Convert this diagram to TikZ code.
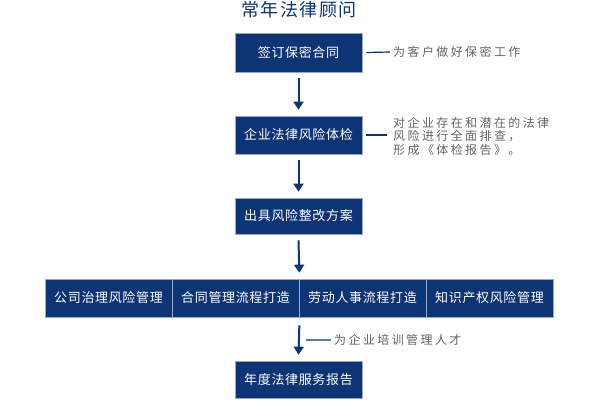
\documentclass[tikz,border=0pt]{standalone}
\usepackage{fontspec}
\usetikzlibrary{arrows.meta,calc}
\newfontfamily\cjkbox[LetterSpace=5]{Noto Sans CJK SC}
\newfontfamily\cjktitle[LetterSpace=8]{Noto Sans CJK SC}
\newfontfamily\cjkann[LetterSpace=20]{Noto Sans CJK SC}
\definecolor{navy}{RGB}{13,52,116}
\definecolor{edge}{RGB}{150,168,205}
\definecolor{anngrey}{RGB}{100,100,100}
\tikzset{
  box/.style={rectangle, fill=navy, draw=edge, line width=0.7pt, text=white,
    minimum width=127pt, inner sep=0pt, font=\cjkbox\fontsize{13}{15}\selectfont},
  arr/.style={draw=navy, line width=2pt, -{Triangle[width=10pt,length=8pt]}},
  tick/.style={draw=navy, line width=1.2pt},
  ann/.style={text=anngrey, inner sep=0pt, anchor=west, align=left,
    font=\cjkann\fontsize{12}{13.5}\selectfont}
}
\begin{document}
\begin{tikzpicture}[x=1pt,y=-1pt]
\useasboundingbox[fill=white] (0,0) rectangle (597,407);
\node[text=navy, font=\cjktitle\fontsize{18}{20}\selectfont, inner sep=0pt] (title) at (299,10) {常年法律顾问};
\node[box, minimum height=39pt] (b1) at (298.5,52.5) {签订保密合同};
\node[box, minimum height=38pt] (b2) at (298.5,135) {企业法律风险体检};
\node[box, minimum height=36pt] (b3) at (298.5,216) {出具风险整改方案};
\node[box, minimum height=38pt] (r1) at (108.5,298) {公司治理风险管理};
\node[box, minimum height=38pt] (r2) at (235.5,298) {合同管理流程打造};
\node[box, minimum height=38pt] (r3) at (362.5,298) {劳动人事流程打造};
\node[box, minimum height=38pt] (r4) at (489.5,298) {知识产权风险管理};
\node[box, minimum height=37pt] (b4) at (298.5,379.5) {年度法律服务报告};

\draw[arr] ([yshift=-6pt]b1.south) -- ([yshift=6pt]b2.north);
\draw[arr] ([yshift=-6pt]b2.south) -- ([yshift=6pt]b3.north);
\draw[arr] ([yshift=-6pt]b3.south) -- ([yshift=6pt]r2.north east);
\coordinate (a4s) at ([yshift=-8pt]r2.south east);
\coordinate (a4e) at ([yshift=6pt]b4.north);
\draw[arr] (a4s) -- (a4e);

\node[ann] (t1) at (393,52) {为客户做好保密工作};
\draw[tick] ([xshift=4pt]b1.east) -- ([xshift=-3pt]t1.west);

\node[ann] (t2) at (393,136) {对企业存在和潜在的法律\\风险进行全面排查，\\形成《体检报告》。};
\draw[tick] ([xshift=4pt]b2.east) -- ([xshift=-3pt]$(b2.east)+(28,0)$);

\coordinate (m4) at ($(a4s)!0.5!(a4e)$);
\node[ann] (t4) at (334,340) {为企业培训管理人才};
\draw[tick] ([xshift=7pt]m4) -- ([xshift=-3pt]t4.west);
\end{tikzpicture}
\end{document}
